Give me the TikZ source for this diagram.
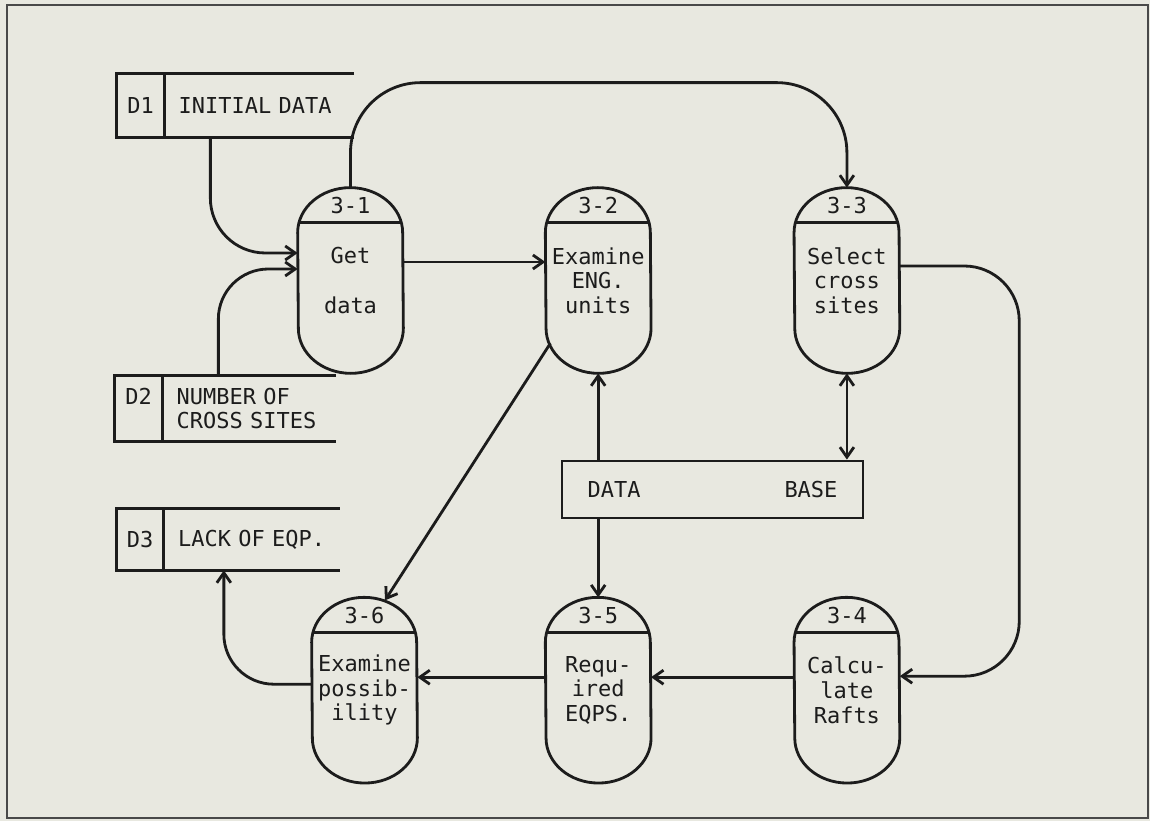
\documentclass[tikz,border=0pt]{standalone}
\usepackage{fontspec}
\setmonofont{DejaVu Sans Mono}
\usetikzlibrary{positioning, calc, arrows.meta}
\definecolor{paper}{RGB}{232,232,224}
\definecolor{ink}{RGB}{28,28,28}

\begin{document}
\begin{tikzpicture}[
                font=\ttfamily\fontsize{12.5}{14}\selectfont,
                every node/.style={text=ink},
                proc/.style={rectangle, minimum width=2.1cm, minimum height=3.7cm, inner sep=0pt, align=center},
                storeid/.style={rectangle, minimum width=0.94cm, minimum height=1.26cm, inner sep=0pt, align=center},
                store/.style={rectangle, anchor=west, minimum height=1.26cm, inner xsep=0pt, inner ysep=0pt, align=left},
                base/.style={draw=ink, line width=1.6pt, rectangle, minimum width=6.02cm, minimum height=1.14cm},
                outline/.style={draw=ink, line width=1.6pt},
                flow/.style={draw=ink, line width=1.6pt, -{Straight Barb[length=2mm, width=2.8mm]}},
                flowboth/.style={flow, {Straight Barb[length=2mm, width=2.8mm]}-{Straight Barb[length=2mm, width=2.8mm]}}
            ]

            \useasboundingbox (0,0) rectangle (23,16.42);
            \fill[paper] (0,0) rectangle (23,16.42);
            \draw[line width=0.9pt, ink!80] (0.14,0.06) rectangle (22.96,16.32);

            \node[proc] (p1) at (7.01,10.81) {Get\\~\\data};
            \node[proc, right=2.84cm of p1] (p2) {Examine\\ENG.\\units};
            \node[proc, right=2.86cm of p2] (p3) {Select\\cross\\sites};
            \node[proc, below=4.48cm of p3] (p4) {Calcu-\\late\\Rafts};
            \node[proc, below=4.48cm of p2] (p5) {Requ-\\ired\\EQPS.};
            \node[proc, left=2.56cm of p5] (p6) {Examine\\possib-\\ility};

            \node[storeid] (d1n) at (2.81,14.31) {D1};
            \node[store, text width=3.5cm] (d1) at ($(d1n.east)+(0.28,0)$) {INITIAL DATA};
            \node[storeid, minimum height=1.3cm] (d2n) at (2.77,8.25) {D2\\\phantom{C}};
            \node[store, minimum height=1.3cm, text width=3.18cm] (d2) at ($(d2n.east)+(0.28,0)$) {NUMBER OF\\CROSS SITES};
            \node[storeid, minimum height=1.22cm] (d3n) at (2.8,5.63) {D3};
            \node[store, minimum height=1.22cm, text width=3.22cm] (d3) at ($(d3n.east)+(0.28,0)$) {LACK OF EQP.};

            \node[base] (db) at (14.25,6.63) {DATA\hspace{2.88cm}BASE};

            \foreach \n/\k in {p1/3-1, p2/3-2, p3/3-3, p4/3-4, p5/3-5, p6/3-6} {
                \draw[outline] ($(\n.north west)+(0,-0.9)$) arc[start angle=180, end angle=0, x radius=1.05cm, y radius=0.9cm]
                    -- ($(\n.south east)+(0,0.9)$) arc[start angle=0, end angle=-180, x radius=1.05cm, y radius=0.9cm] -- cycle;
                \draw[outline] ($(\n.north west)+(0.026,-0.7)$) -- ($(\n.north east)+(-0.026,-0.7)$);
                \node (\n-id) at ($(\n.north)+(0,-0.36)$) {\k};
            }

            \foreach \s/\t in {d1/d1n, d2/d2n, d3/d3n} {
                \draw[outline] (\s.north east) -- (\t.north west) -- (\t.south west) -- (\s.south east);
                \draw[outline] (\t.north east) -- (\t.south east);
            }

            \draw[flow, rounded corners=1.1cm] ($(d1n.south east)+(0.92,0)$) |- ($(p1.west)+(0,0.55)$);
            \draw[flow, rounded corners=1cm] ($(d2n.north east)+(1.12,0)$) |- ($(p1.west)+(0,0.23)$);
            \draw[flow, rounded corners=1.4cm] (p1.north) -- ++(0,2.1) -| (p3.north);
            \draw[flow] ($(p1.east)+(0,0.37)$) -- ($(p2.west)+(0,0.37)$);
            \draw[flow, rounded corners=1.1cm] ($(p3.east)+(0,0.29)$) -- ++(2.39,0) |- ($(p4.east)+(0,0.28)$);
            \draw[flow] ($(p4.west)+(0,0.26)$) -- ($(p5.east)+(0,0.26)$);
            \draw[flow] ($(p5.west)+(0,0.26)$) -- ($(p6.east)+(0,0.26)$);
            \draw[flow, rounded corners=1cm] ($(p6.west)+(0,0.12)$) -| ($(d3n.south east)+(1.2,0)$);
            \draw[flow] ($(p2.south west)+(0.1,0.6)$) -- ($(p6.north)+(0.41,-0.06)$);
            \draw[flow] (db.north -| p2.south) -- (p2.south);
            \draw[flowboth] (p3.south) -- (db.north -| p3.south);
            \draw[flow] (db.south -| p5.north) -- (p5.north);
        \end{tikzpicture}
\end{document}
